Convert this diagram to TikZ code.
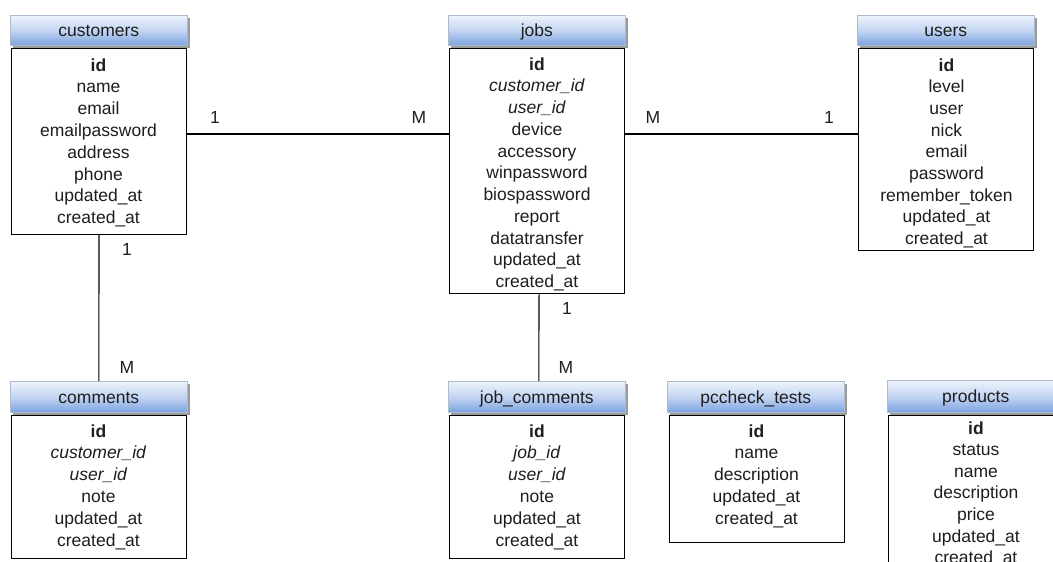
\documentclass[tikz,border=0pt]{standalone}
\usepackage{fontspec}
\setmainfont{Liberation Sans}
\usetikzlibrary{shadows}
\definecolor{hdtop}{HTML}{EEF3FB}
\definecolor{hdmid}{HTML}{C3D5F2}
\definecolor{hdbot}{HTML}{7CA3DF}
\definecolor{hdline}{HTML}{AEBBCD}
\definecolor{txt}{HTML}{1E1E1E}
\tikzset{
  hdr/.style={anchor=north west, top color=hdtop, bottom color=hdbot, middle color=hdmid,
    draw=hdline, line width=0.6pt, minimum height=30pt, minimum width=177pt, inner sep=0pt,
    text height=16pt, text depth=3pt,
    font=\fontsize{17.5}{21}\selectfont, text=txt,
    drop shadow={shadow xshift=2.5pt, shadow yshift=-2.5pt, opacity=0.6, fill=black!65}},
  tbody/.style={anchor=north west, draw=black, line width=1.1pt, fill=white, inner sep=0pt,
    minimum width=175pt},
  row/.style={anchor=base, inner sep=0pt, font=\fontsize{17.5}{21}\selectfont, text=txt},
  lbl/.style={anchor=base, inner sep=0pt, font=\fontsize{17.5}{21}\selectfont, text=txt},
  conn/.style={draw=black, line width=1.1pt}
}
\begin{document}
\begin{tikzpicture}[x=1pt,y=-1pt]
\path[use as bounding box, fill=white] (0,0) rectangle (1053,562);
\clip (0,0) rectangle (1053,562);

% customers
\node[tbody, minimum height=186pt] (custbody) at (11,48) {};
\node[hdr] (custhead) at (10,15) {customers};
\foreach \t [count=\i] in {\textbf{id},name,email,emailpassword,address,phone,updated\_at,created\_at}
  \node[row] (cust-\i) at (98.5,{71+(\i-1)*21.8}) {\t};

% jobs
\node[tbody, minimum height=245pt] (jobsbody) at (449,48) {};
\node[hdr] (jobshead) at (448,15) {jobs};
\foreach \t [count=\i] in {\textbf{id},\textit{customer\_id},\textit{user\_id},device,accessory,winpassword,biospassword,report,datatransfer,updated\_at,created\_at}
  \node[row] (jobs-\i) at (537,{70+(\i-1)*21.75}) {\t};

% users
\node[tbody, minimum height=202pt] (usersbody) at (858,48) {};
\node[hdr] (usershead) at (857,15) {users};
\foreach \t [count=\i] in {\textbf{id},level,user,nick,email,password,remember\_token,updated\_at,created\_at}
  \node[row] (users-\i) at (946.5,{71+(\i-1)*21.7}) {\t};

% comments
\node[tbody, minimum height=143pt] (combody) at (11,415) {};
\node[hdr, minimum height=31pt] (comhead) at (10,381) {comments};
\foreach \t [count=\i] in {\textbf{id},\textit{customer\_id},\textit{user\_id},note,updated\_at,created\_at}
  \node[row] (com-\i) at (98.5,{437+(\i-1)*21.8}) {\t};

% job_comments
\node[tbody, minimum height=143pt] (jcbody) at (449,415) {};
\node[hdr, minimum height=31pt] (jchead) at (448,381) {job\_comments};
\foreach \t [count=\i] in {\textbf{id},\textit{job\_id},\textit{user\_id},note,updated\_at,created\_at}
  \node[row] (jc-\i) at (537,{437+(\i-1)*21.8}) {\t};

% pccheck_tests
\node[tbody, minimum height=127pt] (pcbody) at (669,415) {};
\node[hdr, minimum height=31pt] (pchead) at (667,381) {pccheck\_tests};
\foreach \t [count=\i] in {\textbf{id},name,description,updated\_at,created\_at}
  \node[row] (pc-\i) at (756.5,{437+(\i-1)*21.8}) {\t};

% products
\node[tbody, minimum height=170pt] (prbody) at (888,415) {};
\node[hdr, minimum height=32pt] (prhead) at (887,380) {products};
\foreach \t [count=\i] in {\textbf{id},status,name,description,price,updated\_at,created\_at}
  \node[row] (pr-\i) at (976,{434+(\i-1)*21.6}) {\t};

% connectors
\coordinate (hy) at (0,134);
\draw[conn] (custbody.east |- hy) -- (jobsbody.west |- hy);
\draw[conn] (jobsbody.east |- hy) -- (usersbody.west |- hy);
\draw[conn] (custbody.south) -- (comhead.north);
\draw[conn] ([xshift=2pt]jobsbody.south) -- ([xshift=2pt]jchead.north);

% cardinalities
\node[lbl] (c1) at (215,123.5) {1};
\node[lbl] (c2) at (419,123.5) {M};
\node[lbl] (c3) at (653,123.5) {M};
\node[lbl] (c4) at (829,123.5) {1};
\node[lbl] (c5) at (127,255) {1};
\node[lbl] (c6) at (127,373) {M};
\node[lbl] (c7) at (567,314) {1};
\node[lbl] (c8) at (566,373) {M};
\end{tikzpicture}
\end{document}
